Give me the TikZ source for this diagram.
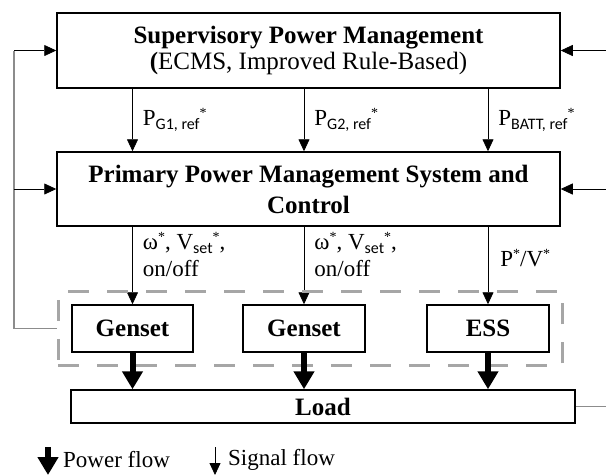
\documentclass[tikz,border=0pt]{standalone}
\usepackage{fontspec}
\setmainfont{Liberation Serif}
\setsansfont{Carlito}
\usetikzlibrary{arrows.meta,positioning,fit}
\newcommand\lsub[1]{\raisebox{-4pt}{\fontsize{16}{16}\selectfont\sffamily #1}}
\newcommand\lstar{\raisebox{8pt}{\fontsize{14}{14}\selectfont *}}

\begin{document}
\begin{tikzpicture}[x=1pt,y=-1pt,
  block/.style={draw,line width=1.5pt,align=center,inner sep=0pt,font=\fontsize{25}{26}\selectfont\bfseries},
  lbl/.style={inner sep=0pt,align=left,font=\fontsize{23}{27}\selectfont},
  sig/.style={-{Triangle[width=11pt,length=12pt]},line width=0.8pt},
  power/.style={-{Triangle[width=20pt,length=18pt]},line width=6pt},
  fb/.style={draw=gray!90,line width=1.5pt},
  dashgrp/.style={draw=gray!70,line width=3pt,dash pattern=on 21pt off 18pt,inner sep=13pt}]
\useasboundingbox (0,0) rectangle (606,475);
\node[block,minimum width=503pt,minimum height=75pt] (sup) at (308.5,50.5) {Supervisory Power Management\\{\mdseries\textbf{(}ECMS, Improved Rule-Based)}};
\node[block,minimum width=503pt,minimum height=74pt,font=\fontsize{25}{31}\selectfont\bfseries] (pri) at (308.5,189) {Primary Power Management System and\\Control};
\node[block,minimum width=121pt,minimum height=47pt] (g1) at (132.5,328.5) {Genset};
\node[block,minimum width=122pt,minimum height=47pt] (g2) at (304,328.5) {Genset};
\node[block,minimum width=122pt,minimum height=47pt] (ess) at (488,328.5) {ESS};
\node[block,minimum width=504pt,minimum height=33pt] (load) at (323,406.5) {Load};

\draw[sig] (sup.south -| g1) -- node[lbl,right=10pt] {P\lsub{G1, ref}\lstar} (pri.north -| g1);
\draw[sig] (sup.south -| g2) -- node[lbl,right=10pt] {P\lsub{G2, ref}\lstar} (pri.north -| g2);
\draw[sig] (sup.south -| ess) -- node[lbl,right=10pt] {P\lsub{BATT, ref}\lstar} (pri.north -| ess);

\draw[sig] (pri.south -| g1) -- node[lbl,pos=0,below right=5pt and 10pt] {ω\lstar, V\lsub{set}\lstar,\\on/off} (g1.north);
\draw[sig] (pri.south -| g2) -- node[lbl,pos=0,below right=5pt and 10pt] {ω\lstar, V\lsub{set}\lstar,\\on/off} (g2.north);
\draw[sig] (pri.south -| ess) -- node[lbl,pos=0.4,right=12pt] {P\lstar/V\lstar} (ess.north);

\node[dashgrp,fit=(g1)(g2)(ess)] (grp) {};

\draw[power] (g1.south) -- (load.north -| g1.south);
\draw[power] (g2.south) -- (load.north -| g2.south);
\draw[power] (ess.south) -- (load.north -| ess.south);

\coordinate (fl) at (14,0);
\coordinate (fr) at (606,0);
\draw[fb] (fl |- sup.west) -- (fl |- grp.west) -- (grp.west);
\draw[sig] (fl |- sup.west) -- (sup.west);
\draw[sig] (fl |- pri.west) -- (pri.west);
\draw[sig] (fr |- sup.east) -- (sup.east);
\draw[sig] (fr |- pri.east) -- (pri.east);
\draw[fb,line width=1pt] (load.east) -- (fr |- load.east);

\node[lbl,anchor=west] (pwr) at (63,460) {Power flow};
\node[lbl,anchor=west] (sgl) at (228,460) {Signal flow};
\draw[power] ([xshift=-15pt,yshift=13pt]pwr.west) -- ++(0,28);
\draw[sig] ([xshift=-13pt,yshift=13pt]sgl.west) -- ++(0,28);
\end{tikzpicture}
\end{document}
